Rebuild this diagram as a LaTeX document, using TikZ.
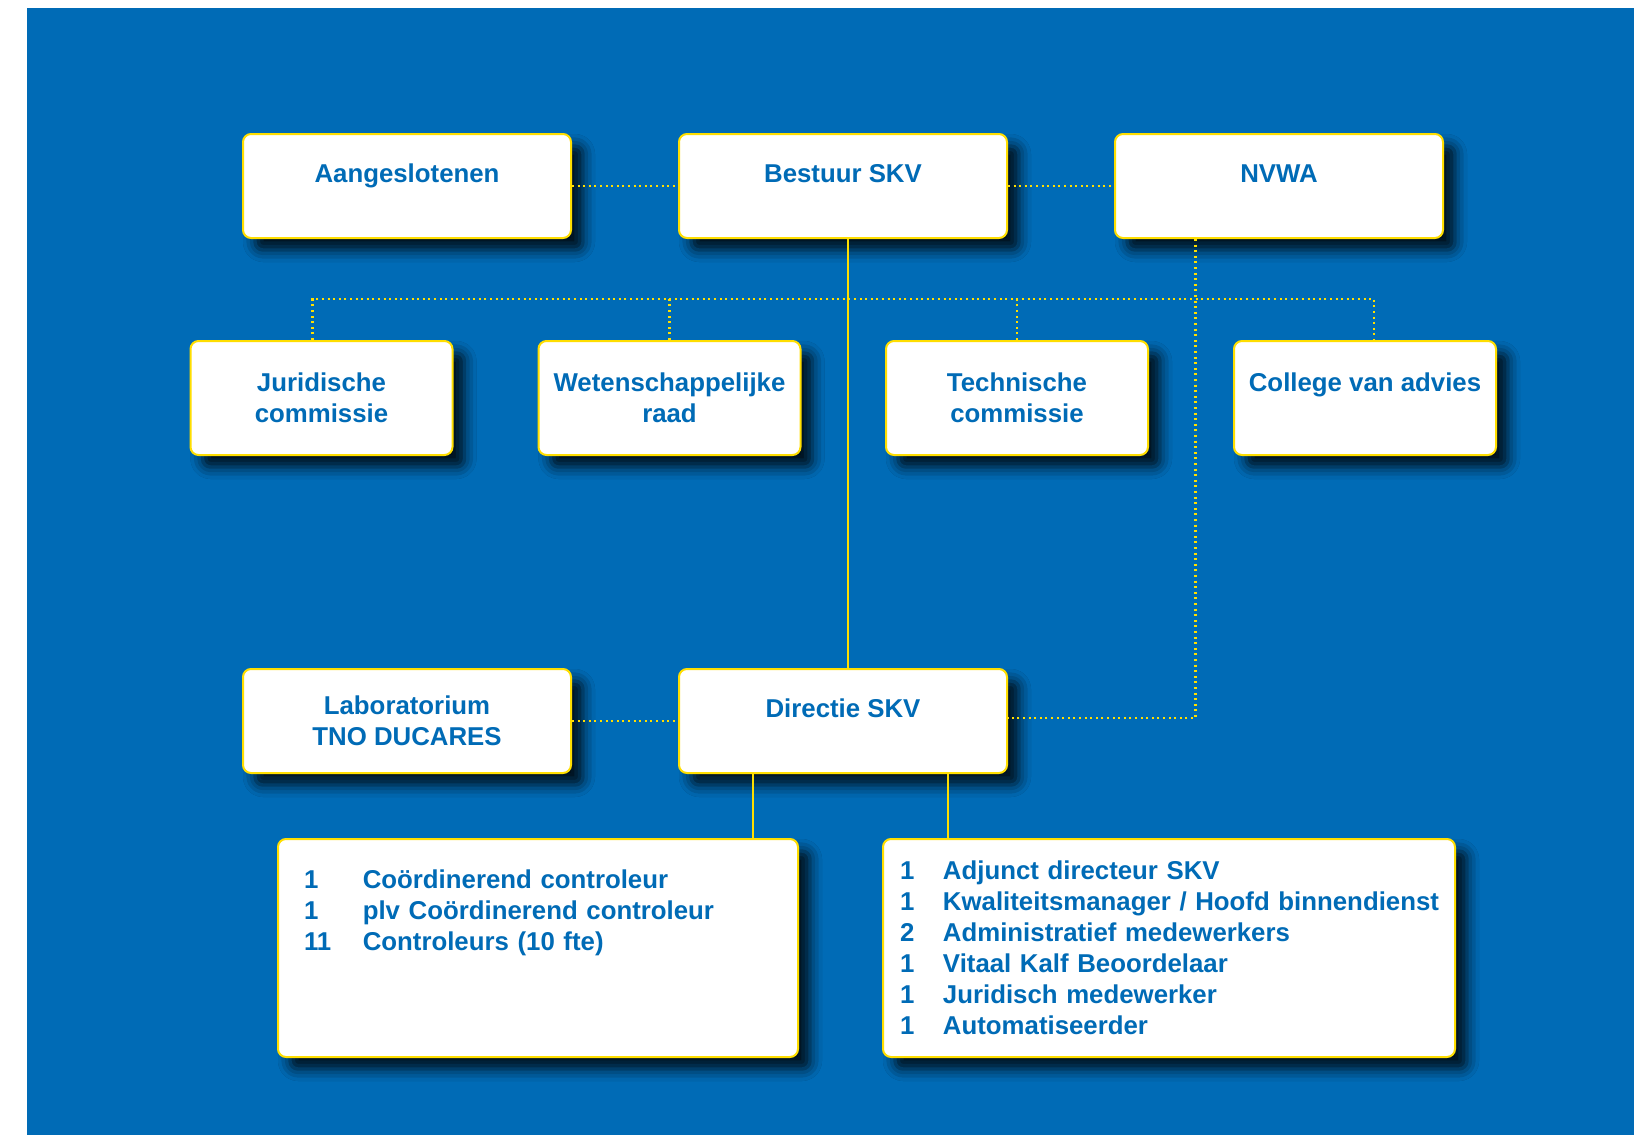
\documentclass[tikz,border=0pt]{standalone}
\usepackage{fontspec}
\setmainfont{Liberation Sans}
\usetikzlibrary{positioning,shadows.blur}
\definecolor{skvblauw}{RGB}{0,107,182}
\definecolor{skvgeel}{RGB}{255,222,0}
\newcommand{\regel}[3]{\mbox{\makebox[#1][l]{#2}#3}}

\begin{document}
\begin{tikzpicture}[
		every node/.style={font=\fontsize{12.9pt}{15.5pt}\selectfont\bfseries, text=skvblauw, align=center},
		blok/.style={draw=skvgeel, line width=1pt, fill=white, rounded corners=4pt,
			blur shadow={shadow xshift=6pt, shadow yshift=-6pt, shadow blur radius=6pt, shadow opacity=85},
			minimum width=164pt, minimum height=52pt, inner sep=0pt},
		commissie/.style={blok, minimum width=131pt, minimum height=57pt},
		lijst/.style={blok, align=left, minimum height=109pt},
		stip/.style={draw=skvgeel, line width=1.1pt, dash pattern=on 1pt off 1.8pt},
		lijn/.style={draw=skvgeel, line width=0.9pt},
		node distance=53pt
		]
		% achtergrond
		\useasboundingbox (0,0) rectangle (817pt,-567.5pt);
		\fill[skvblauw] (13.5pt,-4pt) rectangle (817pt,-567.5pt);
		
		% bovenste rij
		\node[blok] (bestuur) at (421.5pt,-93pt) {Bestuur SKV\\[-3pt]~};
		\node[blok, left=of bestuur] (aangesl) {Aangeslotenen\\[-3pt]~};
		\node[blok, right=of bestuur] (nvwa) {NVWA\\[-3pt]~};
		
		% commissies en raden
		\node[commissie, below=50.5pt of bestuur, xshift=-86.75pt] (wetraad) {Wetenschappelijke\\raad};
		\node[commissie, below=50.5pt of bestuur, xshift=87pt] (techcom) {Technische\\commissie};
		\node[commissie, left=42pt of wetraad] (jurcom) {Juridische\\commissie};
		\node[commissie, right=42pt of techcom] (cva) {College van advies\\~};
		
		% directie en laboratorium
		\node[blok, below=214.5pt of bestuur] (directie) {Directie SKV\\[-3pt]~};
		\node[blok, left=of directie] (lab) {Laboratorium\\TNO DUCARES};
		
		% medewerkers
		\node[lijst, minimum width=260pt, inner xsep=13pt, text width=234pt,
			below=32pt of directie, xshift=-152.5pt] (controle) {%
			\regel{29.4pt}{1}{Coördinerend controleur}\\
			\regel{29.4pt}{1}{plv Coördinerend controleur}\\
			\regel{29.4pt}{11}{Controleurs (10 fte)}\\[22pt]~};
		\node[lijst, minimum width=286pt, inner xsep=8.6pt, text width=268.8pt,
			right=41.5pt of controle] (staf) {%
			\regel{21.4pt}{1}{Adjunct directeur SKV}\\
			\regel{21.4pt}{1}{Kwaliteitsmanager / Hoofd binnendienst}\\
			\regel{21.4pt}{2}{Administratief medewerkers}\\
			\regel{21.4pt}{1}{Vitaal Kalf Beoordelaar}\\
			\regel{21.4pt}{1}{Juridisch medewerker}\\
			\regel{21.4pt}{1}{Automatiseerder}};
		
		% stippellijnen
		\draw[stip] (aangesl) -- (bestuur);
		\draw[stip] (bestuur) -- (nvwa);
		\draw[stip] (lab) -- (directie);
		\draw[stip] ([xshift=-4.5pt]jurcom.north) -- ++(0,20.5pt) -| ([xshift=4.5pt]cva.north);
		\draw[stip] (wetraad.north) -- ++(0,20.5pt);
		\draw[stip] (techcom.north) -- ++(0,20.5pt);
		\draw[stip] ([xshift=-41.75pt]nvwa.south) |- ([yshift=1.5pt]directie.east);
		
		% doorgetrokken lijnen
		\draw[lijn] ([xshift=2.5pt]bestuur.south) -- ([xshift=2.5pt]directie.north);
		\draw[lijn] ([xshift=-45pt]directie.south) -- ([xshift=-45pt]directie.south |- controle.north);
		\draw[lijn] ([xshift=52.5pt]directie.south) -- ([xshift=52.5pt]directie.south |- staf.north);
	\end{tikzpicture}
\end{document}
